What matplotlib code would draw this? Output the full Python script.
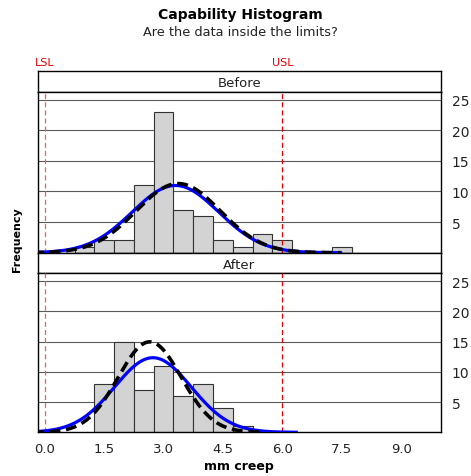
import numpy as np
import matplotlib
matplotlib.use("Agg")
import matplotlib.pyplot as plt

# Histogram data (bin left edges, counts), bin width 0.5
bin_width = 0.5
before_edges = [0.75, 1.25, 1.75, 2.25, 2.75, 3.25, 3.75, 4.25, 4.75, 5.25, 5.75, 7.25]
before_counts = [1, 2, 2, 11, 23, 7, 6, 2, 1, 3, 2, 1]
after_edges = [1.25, 1.75, 2.25, 2.75, 3.25, 3.75, 4.25, 4.75]
after_counts = [8, 15, 7, 11, 6, 8, 4, 1]

# Fitted normal curves: (mean, sd, right end of curve)
before_fit_overall = (3.30, 1.09, 7.47)
before_fit_within = (3.37, 1.06, 7.47)
after_fit_overall = (2.73, 0.97, 6.35)
after_fit_within = (2.65, 0.80, 5.43)

n_obs = 60
lsl, usl = 0.0, 6.0
x_ticks = [0.0, 1.5, 3.0, 4.5, 6.0, 7.5, 9.0]
y_ticks = [5, 10, 15, 20, 25]


def fit_curve(ax, fit, **kw):
    mu, sd, x_end = fit
    xs = np.linspace(-0.3, x_end, 300)
    ys = n_obs * bin_width * np.exp(-0.5 * ((xs - mu) / sd) ** 2) / (sd * np.sqrt(2 * np.pi))
    ax.plot(xs, ys, **kw)


fig = plt.figure(figsize=(4.71, 4.77), dpi=100)

W, H = 471, 477
def box(x0, y0, x1, y1):
    return [x0 / W, 1 - y1 / H, (x1 - x0) / W, (y1 - y0) / H]

panels = [
    ("Before", box(37.7, 72, 440.7, 92.7), box(37.7, 92.7, 440.7, 253.7),
     before_edges, before_counts, before_fit_overall, before_fit_within),
    ("After", box(37.7, 253.7, 440.7, 274.3), box(37.7, 274.3, 440.7, 433.3),
     after_edges, after_counts, after_fit_overall, after_fit_within),
]

for i, (name, strip_pos, ax_pos, edges, counts, fit_o, fit_w) in enumerate(panels):
    sax = fig.add_axes(strip_pos)
    sax.set_xticks([])
    sax.set_yticks([])
    sax.text(0.5, 0.45, name, ha="center", va="center", fontsize=9.5, color="#222222")
    for sp in sax.spines.values():
        sp.set_linewidth(1.0)

    ax = fig.add_axes(ax_pos)
    ax.set_xlim(-0.18, 10.0)
    ax.set_ylim(0, 26.3)
    for y in y_ticks:
        ax.axhline(y, color="#5a5a5a", lw=0.8, zorder=0)
    ax.bar(edges, counts, width=bin_width, align="edge", color="#d3d3d3",
           edgecolor="#333333", lw=0.8, zorder=2)
    ax.axvline(lsl, color="#e86060", lw=0.9, ls=(0, (4, 2.5)), zorder=3)
    ax.axvline(usl, color="#e00000", lw=0.9, ls=(0, (4, 2.5)), zorder=3)
    fit_curve(ax, fit_o, color="#0000ff", lw=2.3, zorder=4)
    fit_curve(ax, fit_w, color="black", lw=2.6, ls=(0, (3, 1.6)), zorder=5)

    ax.yaxis.tick_right()
    ax.set_yticks(y_ticks)
    ax.tick_params(axis="y", length=0, pad=8, labelsize=10, labelcolor="#222222")
    ax.set_xticks(x_ticks)
    if i == 0:
        ax.tick_params(axis="x", length=0, labelbottom=False)
    else:
        ax.set_xticklabels([f"{t:.1f}" for t in x_ticks])
        ax.tick_params(axis="x", length=0, pad=7, labelsize=9.5, labelcolor="#222222")
        ax.set_xlabel("mm creep", fontsize=9, fontweight="bold", labelpad=3)
    for sp in ax.spines.values():
        sp.set_linewidth(1.0)

# Spec limit labels above the first panel
for val, lab in [(lsl, "LSL"), (usl, "USL")]:
    xf = (45 + val * 39.6) / W
    fig.text(xf, 1 - 63 / H, lab, ha="center", va="center", color="#e00000", fontsize=8)

fig.text(0.51, 1 - 15 / H, "Capability Histogram", ha="center", va="center",
         fontsize=10, fontweight="bold")
fig.text(0.51, 1 - 33 / H, "Are the data inside the limits?", ha="center", va="center",
         fontsize=9.3, color="#222222")
fig.text(17 / W, 1 - 240 / H, "Frequency", ha="center", va="center", rotation=90,
         fontsize=8, fontweight="bold")

fig.savefig("out.png", dpi=100)
